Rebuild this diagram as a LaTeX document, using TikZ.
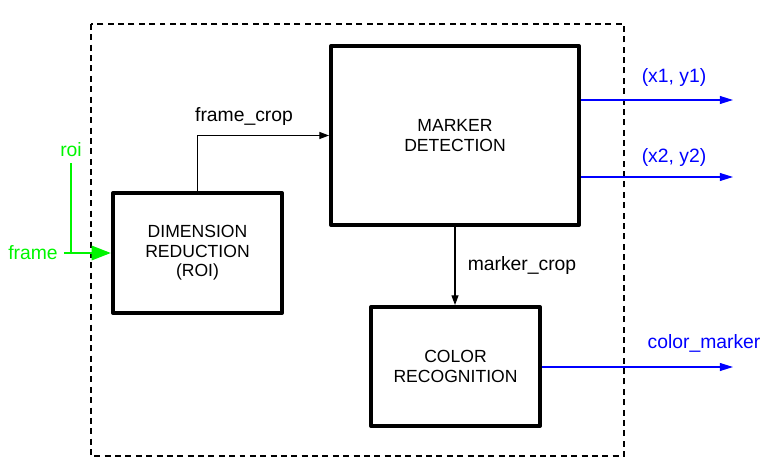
\documentclass[tikz,border=0pt]{standalone}
\usepackage{fontspec}
\setmainfont{Liberation Sans}
\usetikzlibrary{arrows.meta}

\begin{document}
\begin{tikzpicture}[x=0.02cm,y=-0.02cm,
        block/.style={draw,line width=2.3pt,line join=round,align=center,
            font=\fontsize{10}{11}\selectfont},
        conn/.style={line width=0.6pt,-{Triangle[length=5.5pt,width=4pt]}},
        outp/.style={blue,line width=0.7pt,-{Triangle[length=7.5pt,width=4.5pt]}},
        inp/.style={green,line width=1.7pt},
        lbl/.style={font=\fontsize{11}{13}\selectfont}]
        \definecolor{green}{RGB}{0,245,0}
        \useasboundingbox (0,0) rectangle (766,472);
        % surrounding module
        \draw[line width=1.5pt,dash pattern=on 3.4pt off 2.5pt] (91,24) rectangle (624,456);
        \node[block,minimum width=3.38cm,minimum height=2.4cm] (dr) at (197.5,253) {DIMENSION\\REDUCTION\\(ROI)};
        \node[block,minimum width=4.96cm,minimum height=3.58cm] (md) at (455,135.5) {MARKER\\DETECTION};
        \node[block,minimum width=3.38cm,minimum height=2.38cm] (cr) at (455.5,366.5) {COLOR\\RECOGNITION};
        % inputs
        \node[lbl,green] (roi) at (71,150) {roi};
        \node[lbl,green] (frame) at (33,253) {frame};
        \draw[inp] (roi.south) -- (roi.south |- frame.east);
        \draw[inp,-{Triangle[length=11pt,width=8pt]}] (frame.east) -- (dr.west);
        % internal
        \draw[conn] (dr.north) |- (md.west);
        \node[lbl] at (244,117) {frame\_crop};
        \draw[conn] (md.south) -- (md.south |- cr.north);
        \node[lbl] at (522,266) {marker\_crop};
        % outputs
        \coordinate (o1) at (733,100);
        \coordinate (o2) at (733,177);
        \coordinate (o3) at (733,367);
        \draw[outp] (md.east |- o1) -- (o1);
        \draw[outp] (md.east |- o2) -- (o2);
        \draw[outp] (cr.east |- o3) -- (o3);
        \node[lbl,blue] at (674,78) {(x1, y1)};
        \node[lbl,blue] at (674,158) {(x2, y2)};
        \node[lbl,blue] at (704,343) {color\_marker};
    \end{tikzpicture}
\end{document}
